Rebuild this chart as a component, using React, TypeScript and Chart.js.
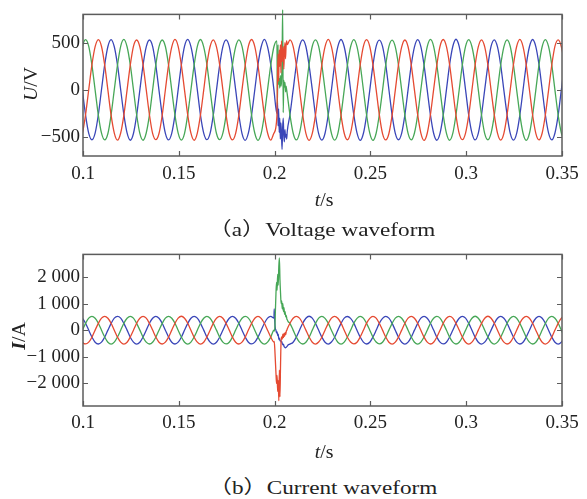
import React, { useEffect, useRef } from 'react';
import { Chart, registerables } from 'chart.js';

Chart.register(...registerables);

// ---------- sample grid (simulation step: 50 Hz, 12 samples / period) ----------
const T0 = 0.098;
const DT = 1 / 600;

// ---------- voltage (V) ----------
const V_RED = [
  -528,-461,-263,4,267,458,533,460,262,-3,-268,-457,
  -532,-456,-266,-2,263,462,529,457,268,3,-262,-461,
  -527,-462,-268,2,266,456,535,461,263,-4,-266,-458,
  -533,-457,-262,-3,269,460,531,456,266,2,-264,-462,
  -529,-460,-267,3,262,463,534,459,261,-2,-269,-456,
  -531,-458,-264,1,265,457,530,462,267,4,-263,-460,
  -534,-461,-266,-4,268,459,536,458,264,-1,-267,-459,
  -528,-455,-263,2,264,461,532,460,266,3,-265,-463,
  -530,-462,-268,-2,267,456,529,457,263,-3,-262,-457,
  -535,-459,-262,3,263,462,534,461,268,1,-268,-461,
  -527,-457,-267,-1,266,458,531,456,262,-4,-264,-458,
  -532,-461,-265,4,269,460,535,459,265,2,-266,-460,
  -529,-456,-263,-2,264,463,530,457,267,3,
];
const V_BLUE = [
  262,-3,-267,-461,-528,-457,-263,4,268,460,533,457,
  266,2,-262,-456,-533,-462,-268,-2,263,456,529,462,
  263,-4,-266,-460,-530,-458,-264,3,266,463,535,458,
  268,1,-269,-457,-527,-461,-267,-1,262,459,531,461,
  264,3,-263,-462,-534,-456,-262,2,269,457,536,456,
  267,-2,-265,-458,-529,-460,-266,-3,264,461,530,460,
  261,4,-268,-463,-531,-459,-263,1,267,458,534,457,
  265,-1,-262,-456,-535,-462,-269,-4,263,462,528,461,
  269,2,-267,-460,-528,-457,-264,3,266,456,532,458,
  262,-3,-264,-459,-533,-461,-267,-2,268,460,537,462,
  266,1,-269,-457,-530,-458,-262,4,262,463,531,456,
  263,-4,-263,-461,-532,-460,-266,-1,265,457,534,459,
  267,2,-266,-458,-529,-456,-268,3,263,461,
];
const V_GREEN = [
  268,457,532,461,263,-2,-266,-458,-529,-462,-264,3,
  263,462,535,457,267,3,-263,-461,-533,-456,-268,-1,
  266,458,529,460,262,-4,-267,-457,-531,-460,-262,2,
  262,461,534,456,268,1,-264,-462,-527,-458,-266,-3,
  267,456,531,462,264,-3,-269,-459,-534,-461,-263,4,
  264,460,536,458,266,2,-262,-456,-530,-457,-267,-2,
  269,463,530,461,263,-1,-266,-460,-532,-463,-265,1,
  263,457,533,459,267,4,-263,-458,-535,-459,-261,-4,
  266,462,528,456,262,-2,-268,-461,-529,-456,-267,3,
  261,458,535,462,265,3,-264,-457,-533,-461,-263,-1,
  268,461,532,457,269,-3,-266,-463,-528,-458,-268,2,
  264,456,530,460,263,1,-262,-459,-534,-462,-264,-2,
  267,460,533,458,266,-4,-267,-456,-530,-460,
];
// fault transient (voltage)
const VF_T = [0.2012,0.2015,0.2018,0.2021,0.2024,0.2027,0.2030,0.2033,0.2036,0.2039,0.2042,0.2045,0.2048,0.2051,0.2054,0.2057,0.2060,0.2063,0.2066];
const VF_RED = [-280,150,380,90,420,250,480,180,520,300,350,460,220,400,500,330,470,520,480];
const VF_GREEN = [520,-150,480,60,120,20,150,40,90,300,850,-240,100,30,80,-20,40,0,-45];
const VF_BLUE = [-250,-120,-380,-200,-450,-300,-520,-350,-480,-630,-400,-300,-480,-550,-420,-500,-470,-520,-440];

// ---------- current (A) ----------
const C_RED = [
  -258,-452,-517,-448,-263,3,257,452,522,447,262,-2,
  -262,-447,-523,-453,-257,-3,262,448,518,452,258,4,
  -257,-451,-519,-447,-262,2,259,453,524,449,263,-3,
  -263,-448,-522,-452,-258,-1,263,447,517,451,257,2,
  -259,-453,-518,-449,-261,4,258,451,521,446,261,-4,
  -261,-449,-524,-451,-259,-2,261,449,519,453,259,3,
  -256,-452,-520,-446,-264,1,256,454,523,448,264,-1,
  -264,-446,-517,-454,-257,-4,264,446,518,452,256,2,
  -258,-451,-523,-448,-262,3,259,452,522,447,262,-3,
  -262,-449,-518,-452,-258,-2,261,448,517,453,258,4,
  -257,-454,-521,-447,-263,2,257,451,524,449,263,-2,
  -263,-447,-519,-453,-259,-3,262,447,519,451,259,1,
  -259,-452,-522,-449,-261,4,258,453,520,448,
];
const C_BLUE = [
  522,448,262,-3,-258,-452,-518,-447,-262,2,258,452,
  517,453,257,2,-263,-447,-523,-452,-257,-3,263,448,
  523,449,263,-1,-259,-453,-519,-449,-263,4,257,451,
  518,452,258,3,-262,-448,-522,-453,-258,-2,261,447,
  521,447,261,-4,-257,-451,-517,-448,-261,1,259,453,
  519,451,259,2,-264,-449,-524,-451,-259,-3,262,449,
  524,453,256,-2,-261,-452,-520,-446,-264,3,256,454,
  516,446,264,1,-258,-447,-518,-454,-256,-4,264,446,
  522,452,258,-3,-263,-453,-523,-448,-262,2,258,452,
  518,448,262,4,-259,-448,-517,-452,-258,-2,261,448,
  523,454,257,-1,-262,-451,-521,-449,-263,3,257,451,
  519,447,263,2,-257,-449,-519,-453,-259,-1,263,447,
  521,451,259,-3,-261,-452,-522,-448,-261,4,
];
const C_GREEN = [
  -262,3,258,452,518,447,262,-2,-257,-452,-522,-448,
  -257,-2,263,447,523,452,257,3,-263,-447,-518,-453,
  -263,1,257,453,519,448,263,-4,-258,-451,-524,-449,
  -258,-3,262,448,522,451,258,2,-262,-448,-517,-452,
  -261,4,259,451,517,453,261,-1,-259,-453,-521,-447,
  -259,-1,261,449,524,449,259,3,-261,-449,-519,-451,
  -264,2,256,454,520,446,264,-3,-256,-454,-523,-448,
  -256,-4,264,446,518,452,256,1,-264,-446,-517,-454,
  -262,3,258,452,523,448,262,-2,-258,-452,-522,-447,
  -258,-2,262,448,517,453,258,4,-262,-448,-518,-452,
  -263,1,257,451,524,449,263,-3,-257,-451,-521,-449,
  -259,-3,263,447,519,451,259,2,-263,-447,-519,-453,
  -261,4,259,453,520,447,261,-1,-259,-452,
];
// fault transient (current)
const CF_T = [0.1998,0.2001,0.2004,0.2007,0.2010,0.2013,0.2016,0.2019,0.2022,0.2025,0.2028,0.2031,0.2034,0.2037,0.2040,0.2043,0.2046,0.2049,0.2052,0.2055,0.2058,0.2061,0.2064,0.2067,0.2070];
const CF_RED = [-420,-700,-1150,-1600,-2000,-1700,-2300,-1900,-2650,-1500,-2500,-1300,-380,-250,-330,-150,-280,-120,-230,-90,-170,-40,0,60,110];
const CF_GREEN = [-30,50,700,1350,1800,1500,2100,1700,2400,2720,1900,1400,1000,1100,800,1000,700,850,600,700,500,560,420,380,330];
const CF_BLUE = [800,300,60,0,-100,-60,-200,-150,-350,-300,-400,-380,-450,-420,-500,-550,-520,-600,-640,-660,-650,-640,-620,-590,-560];

// ---------- axes ----------
const X_TICKS = [0.1, 0.15, 0.2, 0.25, 0.3, 0.35];
const X_TICK_LABELS = ['0.1', '0.15', '0.2', '0.25', '0.3', '0.35'];
const V_TICKS = [-500, 0, 500];
const V_TICK_LABELS = ['\u2212500', '0', '500'];
const C_TICKS = [-2000, -1000, 0, 1000, 2000];
const C_TICK_LABELS = ['\u22122 000', '\u22121 000', '0', '1 000', '2 000'];

const RED = '#e54a32';
const GREEN = '#47a757';
const BLUE = '#3a46b8';

function merge(grid: number[], ft: number[], fv: number[]) {
  const pts = grid.map((v, i) => ({ x: T0 + i * DT, y: v }));
  const s = ft[0];
  const e = ft[ft.length - 1];
  return [
    ...pts.filter((p) => p.x < s),
    ...ft.map((t, i) => ({ x: t, y: fv[i] })),
    ...pts.filter((p) => p.x > e),
  ];
}

const framePlugin = {
  id: 'frame',
  afterDraw(chart: any) {
    const { ctx, chartArea: a, scales } = chart;
    ctx.save();
    ctx.strokeStyle = '#5c5c5c';
    ctx.lineWidth = 1.5;
    ctx.strokeRect(a.left, a.top, a.right - a.left, a.bottom - a.top);
    ctx.lineWidth = 1.2;
    ctx.beginPath();
    scales.x.ticks.forEach((t: any) => {
      const px = Math.round(scales.x.getPixelForValue(t.value)) + 0.5;
      ctx.moveTo(px, a.bottom);
      ctx.lineTo(px, a.bottom - 5);
      ctx.moveTo(px, a.top);
      ctx.lineTo(px, a.top + 5);
    });
    scales.y.ticks.forEach((t: any) => {
      const py = Math.round(scales.y.getPixelForValue(t.value)) + 0.5;
      ctx.moveTo(a.left, py);
      ctx.lineTo(a.left + 5, py);
      ctx.moveTo(a.right, py);
      ctx.lineTo(a.right - 5, py);
    });
    ctx.stroke();
    ctx.restore();
  },
};

const FONT = { family: '"Liberation Serif", "Times New Roman", serif', size: 19 };

function makeConfig(
  series: { data: { x: number; y: number }[]; color: string; clipTop?: number }[],
  yMin: number,
  yMax: number,
  yTicks: number[],
  yLabels: string[],
  padTop: number,
  xHeight: number,
  xPad: number
): any {
  return {
    type: 'line',
    data: {
      datasets: series.map((s) => ({
        data: s.data,
        borderColor: s.color,
        borderWidth: 1.3,
        pointRadius: 0,
        fill: false,
        cubicInterpolationMode: 'monotone',
        clip: { left: 0, top: s.clipTop ?? 0, right: 0, bottom: 0 },
      })),
    },
    options: {
      animation: false,
      responsive: false,
      devicePixelRatio: 1,
      events: [],
      layout: { padding: { top: padTop, right: 25, left: 0, bottom: 0 } },
      plugins: { legend: { display: false }, tooltip: { enabled: false }, title: { display: false } },
      scales: {
        x: {
          type: 'linear',
          min: 0.1,
          max: 0.35,
          afterBuildTicks: (sc: any) => {
            sc.ticks = X_TICKS.map((v) => ({ value: v }));
          },
          afterFit: (sc: any) => {
            sc.height = xHeight;
          },
          grid: { display: false, drawTicks: false },
          border: { display: false },
          ticks: {
            autoSkip: false,
            maxRotation: 0,
            padding: xPad,
            color: '#222',
            font: FONT,
            callback: (v: number) => {
              const i = X_TICKS.findIndex((t) => Math.abs(t - v) < 1e-9);
              return i >= 0 ? X_TICK_LABELS[i] : '';
            },
          },
        },
        y: {
          type: 'linear',
          min: yMin,
          max: yMax,
          afterBuildTicks: (sc: any) => {
            sc.ticks = yTicks.map((v) => ({ value: v }));
          },
          afterFit: (sc: any) => {
            sc.width = 83;
          },
          grid: { display: false, drawTicks: false },
          border: { display: false },
          ticks: {
            autoSkip: false,
            padding: 3,
            color: '#222',
            font: FONT,
            callback: (v: number) => {
              const i = yTicks.indexOf(v);
              return i >= 0 ? yLabels[i] : '';
            },
          },
        },
      },
    },
    plugins: [framePlugin],
  };
}

const textBase: React.CSSProperties = {
  position: 'absolute',
  whiteSpace: 'nowrap',
  fontFamily: '"Liberation Serif", "Noto Sans CJK SC", serif',
  color: '#222',
  lineHeight: 1,
};

function Label({ x, y, size, sx, rotate, children }: { x: number; y: number; size: number; sx: number; rotate?: boolean; children: React.ReactNode }) {
  return (
    <div
      style={{
        ...textBase,
        left: x,
        top: y,
        fontSize: size,
        transform: `translate(-50%,-50%)${rotate ? ' rotate(-90deg)' : ''} scaleX(${sx})`,
      }}
    >
      {children}
    </div>
  );
}

export default function App() {
  const vRef = useRef<HTMLCanvasElement>(null);
  const cRef = useRef<HTMLCanvasElement>(null);

  useEffect(() => {
    const vChart = new Chart(
      vRef.current as HTMLCanvasElement,
      makeConfig(
        [
          { data: merge(V_RED, VF_T, VF_RED), color: RED },
          { data: merge(V_GREEN, VF_T, VF_GREEN), color: GREEN, clipTop: 6 },
          { data: merge(V_BLUE, VF_T, VF_BLUE), color: BLUE },
        ],
        -700,
        800,
        V_TICKS,
        V_TICK_LABELS,
        5,
        44,
        7
      )
    );
    const cChart = new Chart(
      cRef.current as HTMLCanvasElement,
      makeConfig(
        [
          { data: merge(C_RED, CF_T, CF_RED), color: RED },
          { data: merge(C_GREEN, CF_T, CF_GREEN), color: GREEN },
          { data: merge(C_BLUE, CF_T, CF_BLUE), color: BLUE },
        ],
        -2850,
        2850,
        C_TICKS,
        C_TICK_LABELS,
        13,
        39,
        6
      )
    );
    return () => {
      vChart.destroy();
      cChart.destroy();
    };
  }, []);

  return (
    <div style={{ position: 'absolute', left: 0, top: 0, width: 587, height: 499, background: '#fff', overflow: 'hidden' }}>
      <canvas ref={vRef} width={587} height={200} style={{ position: 'absolute', left: 0, top: 0, width: 587, height: 200 }} />
      <canvas ref={cRef} width={587} height={205} style={{ position: 'absolute', left: 0, top: 240, width: 587, height: 205 }} />
      <Label x={31} y={84} size={18} sx={1.1} rotate>
        <i>U</i>/V
      </Label>
      <Label x={19} y={336} size={18} sx={1.1} rotate>
        <i style={{ fontWeight: 'bold' }}>I</i>/A
      </Label>
      <Label x={324} y={200} size={18} sx={1.1}>
        <i>t</i>/s
      </Label>
      <Label x={324} y={452} size={18} sx={1.1}>
        <i>t</i>/s
      </Label>
      <Label x={322} y={229} size={19} sx={1.22}>
        （a）Voltage waveform
      </Label>
      <Label x={323} y={487} size={19} sx={1.22}>
        （b）Current waveform
      </Label>
    </div>
  );
}
